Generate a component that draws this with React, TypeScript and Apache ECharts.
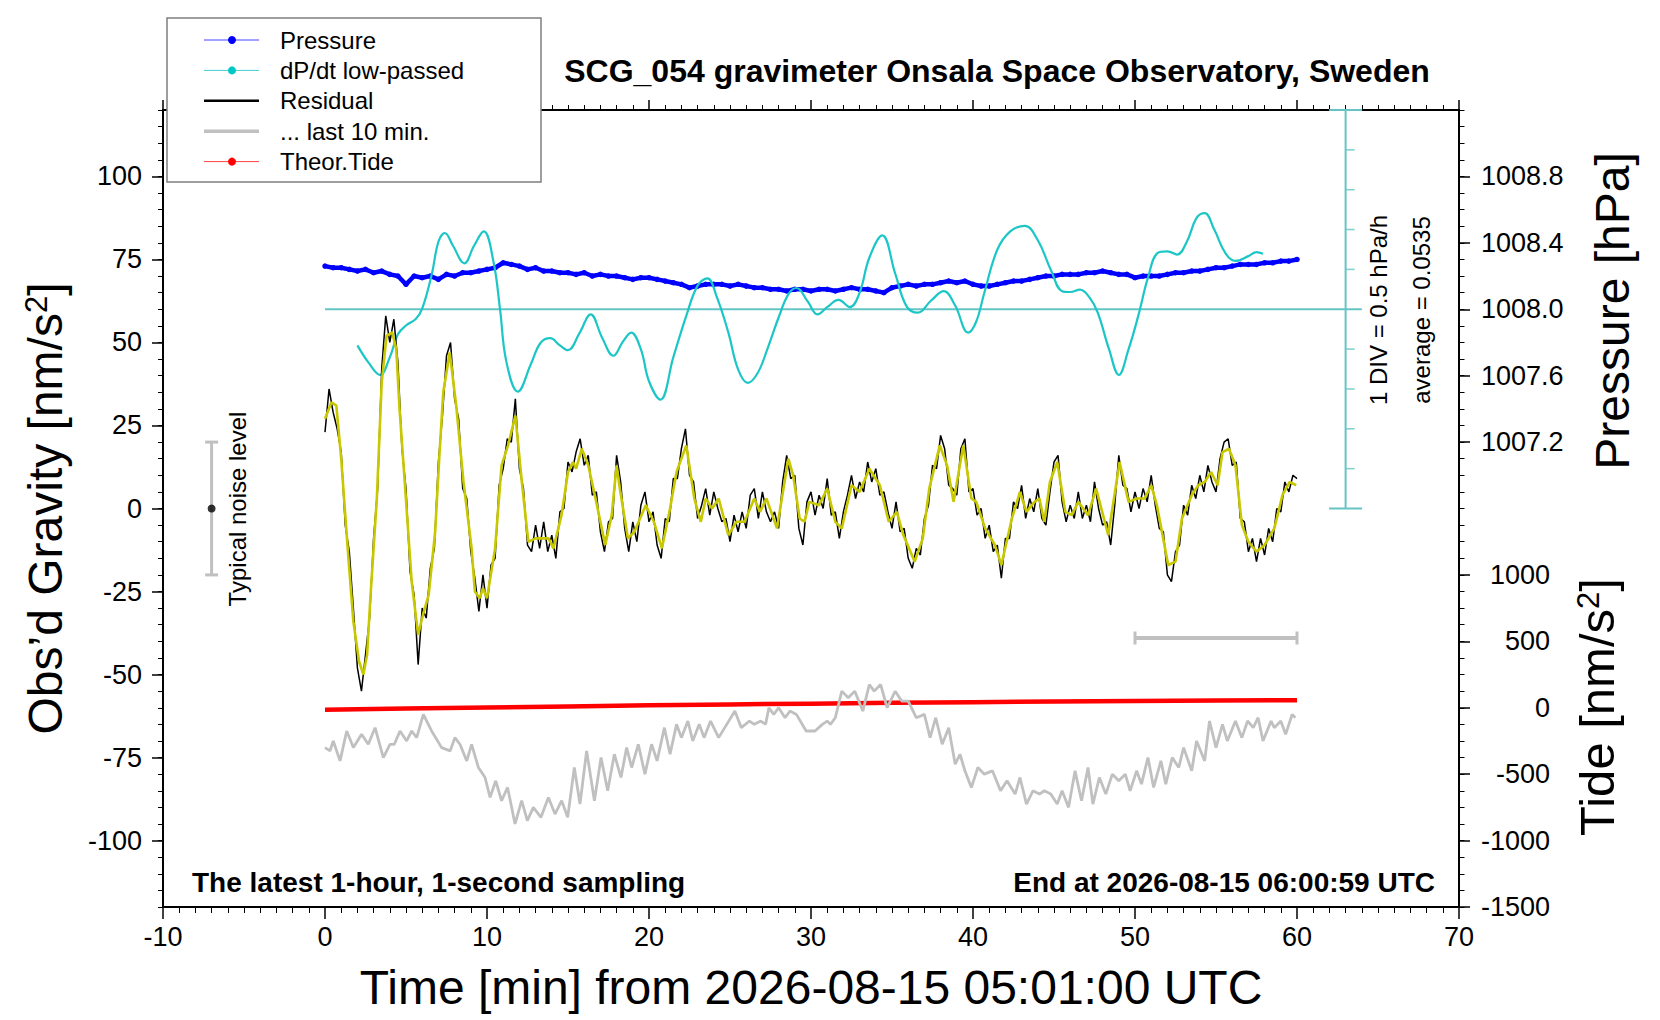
import React, { useEffect, useRef } from "react";
import * as echarts from "echarts";

const FONT = '"Liberation Sans", Arial, Helvetica, sans-serif';

// residual, 1 value every 0.25 min
const RESIDUAL_STEP = 0.25;
const residualRaw = [
    23, 36, 29, 24, 17, -5, -13, -30, -48, -55, -44, -33, -9, 6, 42, 58, 50, 57, 44, 18,
    6, -19, -26, -47, -30, -33, -18, -12, 14, 28, 46, 50, 33, 27, 6, 3, -13, -21, -31, -20,
    -30, -17, -15, 7, 12, 21, 20, 33, 12, 6, -11, -13, -5, -12, -4, -13, -8, -15, -1, 0,
    14, 11, 17, 21, 13, 16, 4, 5, -7, -13, -4, -3, 16, 8, -6, -13, -4, -10, 1, 5,
    -4, -1, -11, -15, -3, -4, 9, 9, 18, 24, 10, 8, -3, 1, 6, -2, 5, 0, -4, -3,
    -10, -2, -7, -1, -6, 4, 6, -3, 5, -1, -4, -1, -6, 8, 16, 9, 10, -6, -11, 2,
    5, -2, 4, 0, 9, -2, -1, -9, -1, 4, 10, 3, 8, 5, 14, 8, 12, 4, 5, -1,
    -6, 2, -7, -6, -15, -18, -12, -14, -3, 1, 13, 12, 22, 18, 7, 6, 4, 18, 21, 5,
    6, -2, 0, -9, -5, -13, -11, -21, -9, -9, 2, 0, 7, -3, 3, -1, 6, -3, -5, 5,
    14, 16, 2, -4, 1, -3, 5, -3, 1, -4, 8, 0, -5, -4, -11, 1, 16, 7, 6, -1,
    5, 0, 6, 2, 10, 1, -6, -7, -20, -22, -13, -11, 1, -2, 7, 3, 10, 5, 13, 8,
    5, 15, 20, 21, 13, 14, -3, -4, -13, -9, -16, -9, -14, -6, -10, 0, -1, 8, 5, 10,
    9,
];

// smoothed residual (yellow), [min, nm/s2]
const residualSmooth: [number, number][] = [
    [0, 27], [0.4, 32], [0.7, 31], [1.0, 15], [1.4, -12], [1.75, -34], [2.1, -46], [2.37, -50],
    [2.6, -44], [2.8, -27], [3.2, 3], [3.5, 38], [3.8, 52], [4.15, 53], [4.4, 48], [4.6, 30],
    [4.85, 13], [5.35, -22], [5.75, -38], [6.05, -32], [6.4, -26], [6.8, -7], [7.05, 15], [7.3, 35],
    [7.7, 47], [8.1, 31], [8.55, 8], [9.05, -12], [9.25, -25], [9.55, -27], [9.75, -24], [10.0, -27],
    [10.5, -12], [10.9, 13], [11.3, 19], [11.75, 28], [12.15, 8], [12.55, -10], [13.0, -9], [13.4, -9],
    [13.8, -9], [14.1, -12], [14.6, -2], [15.0, 11], [15.3, 14], [15.5, 12], [15.85, 18], [16.25, 13],
    [16.7, 3], [17.3, -11], [17.7, -2], [18.0, 13], [18.2, 6], [18.7, -9], [19.1, -7], [19.8, 1],
    [20.3, -4], [20.8, -12], [21.3, 0], [21.7, 11], [22.3, 19], [22.8, 3], [23.2, -4], [23.5, 3],
    [23.9, 0], [24.3, 3], [24.9, -8], [25.4, -4], [25.9, -4], [26.5, 3], [26.85, -1], [27.25, 3],
    [27.9, -6], [28.6, 15], [28.9, 10], [29.3, -3], [29.6, -4], [29.9, 2], [30.5, 1], [31.0, 6],
    [31.5, -4], [31.9, -6], [32.5, 7], [33.0, 5], [33.6, 12], [34.25, 7], [34.8, -4], [35.3, -1],
    [35.7, -8], [36.4, -16], [36.9, -9], [37.3, 6], [37.95, 19], [38.4, 13], [38.8, 2], [39.4, 19],
    [39.9, 3], [40.2, 2], [40.75, -6], [41.35, -11], [41.75, -17], [42.4, -3], [42.9, 5], [43.3, -1],
    [43.8, 2], [44.1, 3], [44.4, -4], [44.75, 8], [45.2, 14], [45.7, -1], [46.1, -2], [46.5, 2],
    [47.1, -2], [47.6, 6], [48.35, -8], [49.05, 14], [49.6, 2], [50.1, 3], [50.6, 3], [51.0, 7],
    [51.35, 1], [52.05, -17], [52.5, -16], [52.9, -3], [53.5, 4], [53.9, 7], [54.3, 8], [54.7, 11],
    [55.1, 7], [55.4, 17], [55.8, 18], [56.2, 13], [56.6, -5], [57.0, -10], [57.5, -13], [58.0, -11],
    [58.6, -6], [59.1, 4], [59.55, 8], [59.95, 7],
];

// pressure [hPa], 1 value every 0.5 min
const PRESSURE_STEP = 0.5;
const pressureHpa = [
    1008.26, 1008.25, 1008.25, 1008.24, 1008.23, 1008.24, 1008.22, 1008.23, 1008.21, 1008.2,
    1008.15, 1008.2, 1008.19, 1008.2, 1008.18, 1008.21, 1008.2, 1008.22, 1008.22, 1008.23,
    1008.24, 1008.25, 1008.28, 1008.27, 1008.26, 1008.24, 1008.25, 1008.23, 1008.23, 1008.22,
    1008.22, 1008.21, 1008.22, 1008.2, 1008.21, 1008.2, 1008.2, 1008.19, 1008.18, 1008.19,
    1008.19, 1008.18, 1008.17, 1008.16, 1008.15, 1008.13, 1008.14, 1008.15, 1008.15, 1008.15,
    1008.14, 1008.15, 1008.14, 1008.13, 1008.13, 1008.12, 1008.12, 1008.11, 1008.12, 1008.12,
    1008.11, 1008.12, 1008.12, 1008.11, 1008.12, 1008.13, 1008.12, 1008.12, 1008.11, 1008.1,
    1008.13, 1008.14, 1008.15, 1008.14, 1008.15, 1008.15, 1008.16, 1008.17, 1008.16, 1008.17,
    1008.15, 1008.14, 1008.14, 1008.15, 1008.16, 1008.17, 1008.17, 1008.18, 1008.19, 1008.2,
    1008.2, 1008.21, 1008.21, 1008.21, 1008.22, 1008.22, 1008.23, 1008.22, 1008.21, 1008.21,
    1008.19, 1008.2, 1008.2, 1008.2, 1008.21, 1008.22, 1008.22, 1008.23, 1008.23, 1008.24,
    1008.25, 1008.25, 1008.26, 1008.27, 1008.27, 1008.27, 1008.28, 1008.28, 1008.29, 1008.29,
    1008.3,
];

// dP/dt low-passed [hPa/h], [min, value]
const dpdtLowPassed: [number, number][] = [
    [2.0, -0.4], [2.7, -0.62], [3.4, -0.77], [4.0, -0.55], [4.5, -0.26], [5.0, -0.15], [5.6, -0.07],
    [6.0, 0.06], [6.6, 0.5], [7.0, 0.9], [7.4, 1.01], [7.9, 0.85], [8.6, 0.63], [9.2, 0.85], [9.8, 1.03],
    [10.4, 0.65], [10.8, 0.06], [11.2, -0.61], [11.9, -0.98], [12.7, -0.64], [13.3, -0.37], [13.9, -0.31],
    [14.5, -0.4], [15.0, -0.46], [15.7, -0.25], [16.4, -0.01], [17.1, -0.3], [17.8, -0.53], [18.4, -0.35],
    [18.9, -0.24], [19.5, -0.45], [20.0, -0.85], [20.7, -1.08], [21.5, -0.55], [22.3, -0.03], [23.0, 0.35],
    [23.6, 0.44], [24.2, 0.2], [24.9, -0.24], [25.5, -0.7], [26.1, -0.87], [26.7, -0.75], [27.3, -0.45],
    [28.0, -0.05], [28.6, 0.24], [29.1, 0.32], [29.8, 0.15], [30.4, -0.01], [31.0, 0.08], [31.7, 0.17],
    [32.4, 0.08], [33.0, 0.26], [33.6, 0.7], [34.4, 0.98], [35.2, 0.5], [35.9, 0.09], [36.6, 0.01],
    [37.4, 0.16], [38.2, 0.28], [38.9, 0.1], [39.7, -0.24], [40.2, -0.1], [40.7, 0.26], [41.5, 0.8],
    [42.3, 1.03], [43.2, 1.1], [44.0, 0.92], [44.8, 0.55], [45.5, 0.28], [46.0, 0.27], [46.6, 0.3],
    [47.2, 0.2], [47.7, 0.01], [48.4, -0.45], [49.0, -0.77], [49.6, -0.45], [50.2, -0.03], [50.8, 0.45],
    [51.4, 0.76], [52.0, 0.78], [52.6, 0.74], [53.2, 0.9], [53.8, 1.2], [54.3, 1.26], [54.9, 1.05],
    [55.6, 0.75], [56.2, 0.66], [57.0, 0.72], [57.5, 0.77], [57.9, 0.75],
];
const DPDT_AVERAGE = 0.0535;
const DPDT_DIV = 0.5;

// grey trace, [min, nm/s2]
const lastTenMin: [number, number][] = [
    [0, -72], [0.31, -73], [0.51, -70], [0.93, -76], [1.34, -67], [1.75, -72], [2.26, -68], [2.67, -71],
    [3.09, -66], [3.6, -75], [4.01, -71], [4.28, -71], [4.63, -67], [5.04, -70], [5.35, -67], [5.66, -69],
    [6.07, -62], [6.58, -67], [7.2, -72], [7.72, -73], [8.02, -69], [8.33, -71], [8.75, -76], [9.05, -71],
    [9.47, -78], [9.88, -81], [10.19, -87], [10.54, -82], [10.9, -88], [11.27, -84], [11.73, -95], [12.14, -88],
    [12.49, -94], [12.86, -90], [13.33, -93], [13.79, -87], [14.2, -92], [14.61, -88], [14.98, -93], [15.39, -78],
    [15.74, -89], [16.15, -73], [16.63, -88], [17.04, -75], [17.45, -85], [17.86, -74], [18.27, -81], [18.62, -72],
    [18.93, -78], [19.34, -71], [19.75, -80], [20.16, -71], [20.5, -76], [20.95, -66], [21.3, -74], [21.7, -65],
    [22.0, -69], [22.4, -64], [22.7, -70], [23.1, -65], [23.4, -69], [23.8, -64], [24.3, -69], [24.8, -65],
    [25.3, -61], [25.7, -66], [26.2, -64], [26.5, -65], [26.9, -64], [27.2, -65], [27.4, -60], [27.7, -62],
    [28.0, -60], [28.4, -63], [28.7, -61], [29.1, -62], [29.7, -67], [30.25, -67], [30.7, -65], [31.0, -64],
    [31.2, -65], [31.5, -63], [31.9, -55], [32.3, -57], [32.7, -55], [33.2, -61], [33.6, -53], [33.9, -55],
    [34.3, -53], [34.7, -60], [35.2, -55], [35.6, -58], [36.0, -58], [36.5, -63], [37.0, -62], [37.35, -69],
    [37.7, -63], [38.1, -71], [38.5, -66], [38.9, -77], [39.2, -74], [39.5, -79], [39.9, -84], [40.3, -78],
    [40.7, -80], [41.2, -79], [41.7, -85], [42.1, -82], [42.6, -86], [42.9, -81], [43.3, -89], [43.7, -85],
    [44.1, -86], [44.4, -85], [44.8, -86], [45.2, -89], [45.5, -85], [45.9, -90], [46.3, -79], [46.7, -88],
    [47.1, -78], [47.4, -89], [47.8, -81], [48.2, -86], [48.6, -80], [49.0, -82], [49.4, -80], [49.7, -85],
    [50.1, -79], [50.4, -83], [50.8, -75], [51.15, -84], [51.6, -76], [51.9, -83], [52.3, -75], [52.7, -78],
    [53.0, -72], [53.5, -79], [53.8, -70], [54.3, -76], [54.6, -64], [55.0, -72], [55.4, -65], [55.7, -70],
    [56.2, -64], [56.6, -69], [56.95, -64], [57.3, -66], [57.6, -63], [57.9, -70], [58.4, -64], [58.6, -66],
    [59.0, -64], [59.3, -68], [59.7, -62], [59.9, -63],
];

// theoretical tide [nm/s2]
const tideTimes = [0, 5, 10, 15, 20, 25, 30, 35, 40, 45, 50, 55, 60];
const tideValues = [-15, -6, 2, 10, 18, 25, 31, 37, 42, 47, 51, 54, 57];

// axis ticks
const gravityTicks = [-100, -75, -50, -25, 0, 25, 50, 75, 100];
const pressureTicks = [1007.2, 1007.6, 1008.0, 1008.4, 1008.8];
const tideTicks = [-1500, -1000, -500, 0, 500, 1000];

const legendNames = ["Pressure", "dP/dt low-passed", "Residual", "... last 10 min.", "Theor.Tide"];

const App: React.FC = () => {
    const chartRef = useRef<HTMLDivElement>(null);

    useEffect(() => {
        if (!chartRef.current) return;
        const chart = echarts.init(chartRef.current, null, { renderer: "svg" });

        const residualData = residualRaw.map((v, i) => [i * RESIDUAL_STEP, v]);
        const pressureData = pressureHpa.map((v, i) => [i * PRESSURE_STEP, v]);
        const tideData = tideTimes.map((t, i) => [t, tideValues[i]]);

        // dP/dt scale: 1 DIV = 0.5 hPa/h = 12 nm/s2, average sits on 60 nm/s2
        const dMin = DPDT_AVERAGE - (180 / 12) * DPDT_DIV;
        const dMax = DPDT_AVERAGE + (60 / 12) * DPDT_DIV;
        const cyanAxisColor = "#66c4c4";
        const divTicks: number[][] = [];
        for (let k = -4; k <= 4; k++) {
            if (k !== 0) divTicks.push([63, DPDT_AVERAGE + k * DPDT_DIV]);
        }

        const legendRows = [
            { line: "#4444ff", lw: 1, dot: "#0000ff" },
            { line: "#44cccc", lw: 1, dot: "#00c8c8" },
            { line: "#000000", lw: 2.5, dot: "" },
            { line: "#c0c0c0", lw: 3.5, dot: "" },
            { line: "#ff4444", lw: 1, dot: "#ff0000" },
        ];
        const legendGraphics: any[] = [
            {
                type: "rect",
                z: 100,
                shape: { x: 167, y: 18, width: 374, height: 164 },
                style: { fill: "#fff", stroke: "#7f7f7f", lineWidth: 1.5 },
            },
        ];
        legendRows.forEach((r, i) => {
            const y = 40 + i * 30.4;
            legendGraphics.push({
                type: "line",
                z: 101,
                shape: { x1: 204, y1: y, x2: 259, y2: y },
                style: { stroke: r.line, lineWidth: r.lw },
            });
            if (r.dot) {
                legendGraphics.push({
                    type: "circle",
                    z: 102,
                    shape: { cx: 232, cy: y, r: 4 },
                    style: { fill: r.dot },
                });
            }
            legendGraphics.push({
                type: "text",
                z: 102,
                x: 280,
                y: y,
                style: {
                    text: legendNames[i],
                    fontSize: 24,
                    fontFamily: FONT,
                    fill: "#000",
                    verticalAlign: "middle",
                },
            });
        });

        const axisBase = {
            splitLine: { show: false },
            axisLine: { onZero: false, lineStyle: { color: "#000", width: 2 } },
        };
        const hiddenLine = { show: false, onZero: false };

        const option = {
            animation: false,
            textStyle: { fontFamily: FONT, color: "#000" },
            grid: { left: 163, top: 110, right: 201, bottom: 113, containLabel: false },
            xAxis: [
                {
                    ...axisBase,
                    type: "value",
                    position: "bottom",
                    min: -10,
                    max: 70,
                    interval: 10,
                    axisTick: { length: 12, lineStyle: { color: "#000", width: 1.5 } },
                    minorTick: { show: true, splitNumber: 10, length: 6, lineStyle: { color: "#000", width: 1 } },
                    axisLabel: { fontSize: 27, color: "#000", margin: 16, fontFamily: FONT },
                    name: "Time [min] from 2026-08-15 05:01:00 UTC",
                    nameLocation: "middle",
                    nameGap: 56,
                    nameTextStyle: { fontSize: 48, color: "#000", fontFamily: FONT },
                },
                {
                    ...axisBase,
                    type: "value",
                    position: "top",
                    min: -10,
                    max: 70,
                    interval: 10,
                    axisTick: { length: 10, lineStyle: { color: "#000", width: 1.5 } },
                    minorTick: { show: true, splitNumber: 10, length: 5, lineStyle: { color: "#000", width: 1 } },
                    axisLabel: { show: false },
                },
            ],
            yAxis: [
                {
                    ...axisBase,
                    type: "value",
                    position: "left",
                    min: -120,
                    max: 120,
                    axisTick: { length: 11, customValues: gravityTicks, lineStyle: { color: "#000", width: 1.5 } },
                    axisLabel: { customValues: gravityTicks, fontSize: 27, color: "#000", margin: 21, fontFamily: FONT },
                    name: "Obs’d Gravity [nm/s{s|2}]",
                    nameLocation: "middle",
                    nameRotate: 90,
                    nameGap: 94,
                    nameTextStyle: {
                        fontSize: 48,
                        color: "#000",
                        fontFamily: FONT,
                        rich: { s: { fontSize: 31, verticalAlign: "top", fontFamily: FONT } },
                    },
                },
                {
                    type: "value",
                    position: "left",
                    min: -120,
                    max: 120,
                    interval: 5,
                    splitLine: { show: false },
                    axisLine: hiddenLine,
                    axisTick: { length: 5, lineStyle: { color: "#000", width: 1 } },
                    axisLabel: { show: false },
                },
                {
                    ...axisBase,
                    type: "value",
                    position: "right",
                    min: 1004.4,
                    max: 1009.2,
                    axisTick: { length: 11, customValues: pressureTicks, lineStyle: { color: "#000", width: 1.5 } },
                    axisLabel: {
                        customValues: pressureTicks,
                        fontSize: 27,
                        color: "#000",
                        margin: 22,
                        fontFamily: FONT,
                        formatter: (v: number) => v.toFixed(1),
                    },
                },
                {
                    type: "value",
                    position: "right",
                    min: -1500,
                    max: 4500,
                    splitLine: { show: false },
                    axisLine: hiddenLine,
                    axisTick: { length: 11, customValues: tideTicks, lineStyle: { color: "#000", width: 1.5 } },
                    axisLabel: {
                        customValues: tideTicks,
                        fontSize: 27,
                        color: "#000",
                        margin: 91,
                        align: "right",
                        fontFamily: FONT,
                        formatter: (v: number) => String(v),
                    },
                },
                {
                    type: "value",
                    position: "right",
                    min: -120,
                    max: 120,
                    interval: 5,
                    splitLine: { show: false },
                    axisLine: hiddenLine,
                    axisTick: { length: 5.5, lineStyle: { color: "#000", width: 1 } },
                    axisLabel: { show: false },
                },
                { type: "value", show: false, min: dMin, max: dMax, axisLine: hiddenLine },
            ],
            series: [
                {
                    name: "Theor.Tide",
                    type: "line",
                    yAxisIndex: 3,
                    data: tideData,
                    showSymbol: false,
                    lineStyle: { color: "#ff0000", width: 4.5 },
                    z: 3,
                },
                {
                    name: "... last 10 min.",
                    type: "line",
                    yAxisIndex: 0,
                    data: lastTenMin,
                    showSymbol: false,
                    lineStyle: { color: "#c0c0c0", width: 2.8 },
                    z: 4,
                },
                {
                    name: "dP/dt average",
                    type: "line",
                    yAxisIndex: 5,
                    data: [[0, DPDT_AVERAGE], [64, DPDT_AVERAGE]],
                    showSymbol: false,
                    lineStyle: { color: cyanAxisColor, width: 2 },
                    z: 3,
                },
                {
                    name: "dP/dt axis",
                    type: "line",
                    yAxisIndex: 5,
                    data: [[63, dMax - 10 * DPDT_DIV], [63, dMax]],
                    symbol: "rect",
                    symbolSize: [33, 2],
                    itemStyle: { color: cyanAxisColor },
                    lineStyle: { color: cyanAxisColor, width: 2 },
                    z: 3,
                },
                {
                    name: "dP/dt div",
                    type: "scatter",
                    yAxisIndex: 5,
                    data: divTicks,
                    symbol: "rect",
                    symbolSize: [9, 1.6],
                    symbolOffset: [4.5, 0],
                    itemStyle: { color: cyanAxisColor },
                    z: 3,
                },
                {
                    name: "Pressure",
                    type: "line",
                    yAxisIndex: 2,
                    data: pressureData,
                    symbol: "circle",
                    symbolSize: 5.5,
                    showSymbol: true,
                    showAllSymbol: true,
                    itemStyle: { color: "#0000ff" },
                    lineStyle: { color: "#0000ff", width: 4.5 },
                    z: 5,
                },
                {
                    name: "dP/dt low-passed",
                    type: "line",
                    yAxisIndex: 5,
                    data: dpdtLowPassed,
                    smooth: 0.4,
                    showSymbol: false,
                    lineStyle: { color: "#1cc6c6", width: 2.2 },
                    z: 6,
                },
                {
                    name: "Residual",
                    type: "line",
                    yAxisIndex: 0,
                    data: residualData,
                    showSymbol: false,
                    lineStyle: { color: "#000", width: 1.5 },
                    z: 7,
                },
                {
                    name: "Residual smoothed",
                    type: "line",
                    yAxisIndex: 0,
                    data: residualSmooth,
                    showSymbol: false,
                    lineStyle: { color: "#c8c800", width: 2.6 },
                    z: 8,
                },
                {
                    name: "Typical noise level",
                    type: "line",
                    yAxisIndex: 0,
                    data: [[-7, -20], [-7, 20]],
                    symbol: "rect",
                    symbolSize: [13, 3],
                    itemStyle: { color: "#c0c0c0" },
                    lineStyle: { color: "#c0c0c0", width: 3 },
                    z: 4,
                },
                {
                    name: "noise centre",
                    type: "scatter",
                    yAxisIndex: 0,
                    data: [[-7, 0]],
                    symbolSize: 8,
                    itemStyle: { color: "#000" },
                    z: 5,
                },
                {
                    name: "10 min span",
                    type: "line",
                    yAxisIndex: 0,
                    data: [[50, -39], [60, -39]],
                    symbol: "rect",
                    symbolSize: [3, 13],
                    itemStyle: { color: "#c0c0c0" },
                    lineStyle: { color: "#c0c0c0", width: 4 },
                    z: 4,
                },
            ],
            graphic: [
                ...legendGraphics,
                {
                    type: "text",
                    x: 997,
                    y: 71,
                    style: {
                        text: "SCG_054 gravimeter Onsala Space Observatory, Sweden",
                        fontSize: 32,
                        fontWeight: "bold",
                        fontFamily: FONT,
                        fill: "#000",
                        align: "center",
                        verticalAlign: "middle",
                    },
                },
                {
                    type: "text",
                    x: 192,
                    y: 882,
                    style: {
                        text: "The latest 1-hour, 1-second sampling",
                        fontSize: 28,
                        fontWeight: "bold",
                        fontFamily: FONT,
                        fill: "#000",
                        verticalAlign: "middle",
                    },
                },
                {
                    type: "text",
                    x: 1435,
                    y: 882,
                    style: {
                        text: "End at 2026-08-15 06:00:59 UTC",
                        fontSize: 28,
                        fontWeight: "bold",
                        fontFamily: FONT,
                        fill: "#000",
                        align: "right",
                        verticalAlign: "middle",
                    },
                },
                {
                    type: "text",
                    x: 237,
                    y: 509,
                    rotation: Math.PI / 2,
                    style: {
                        text: "Typical noise level",
                        fontSize: 24,
                        fontFamily: FONT,
                        fill: "#000",
                        align: "center",
                        verticalAlign: "middle",
                    },
                },
                {
                    type: "text",
                    x: 1378,
                    y: 310,
                    rotation: Math.PI / 2,
                    style: {
                        text: "1 DIV = 0.5 hPa/h",
                        fontSize: 24,
                        fontFamily: FONT,
                        fill: "#000",
                        align: "center",
                        verticalAlign: "middle",
                    },
                },
                {
                    type: "text",
                    x: 1421,
                    y: 310,
                    rotation: Math.PI / 2,
                    style: {
                        text: "average = 0.0535",
                        fontSize: 24,
                        fontFamily: FONT,
                        fill: "#000",
                        align: "center",
                        verticalAlign: "middle",
                    },
                },
                {
                    type: "text",
                    x: 1612,
                    y: 311,
                    rotation: Math.PI / 2,
                    style: {
                        text: "Pressure [hPa]",
                        fontSize: 48,
                        fontFamily: FONT,
                        fill: "#000",
                        align: "center",
                        verticalAlign: "middle",
                    },
                },
                {
                    type: "text",
                    x: 1597,
                    y: 707,
                    rotation: Math.PI / 2,
                    style: {
                        text: "{a|Tide [nm/s}{s|2}{a|]}",
                        fill: "#000",
                        align: "center",
                        verticalAlign: "middle",
                        rich: {
                            a: { fontSize: 49, fontFamily: FONT, fill: "#000" },
                            s: { fontSize: 31, fontFamily: FONT, fill: "#000", verticalAlign: "top" },
                        },
                    },
                },
            ],
        };

        chart.setOption(option as any);

        return () => {
            chart.dispose();
        };
    }, []);

    return (
        <div
            ref={chartRef}
            style={{ position: "absolute", left: 0, top: 0, width: 1660, height: 1020, background: "#fff" }}
        />
    );
};

export default App;
